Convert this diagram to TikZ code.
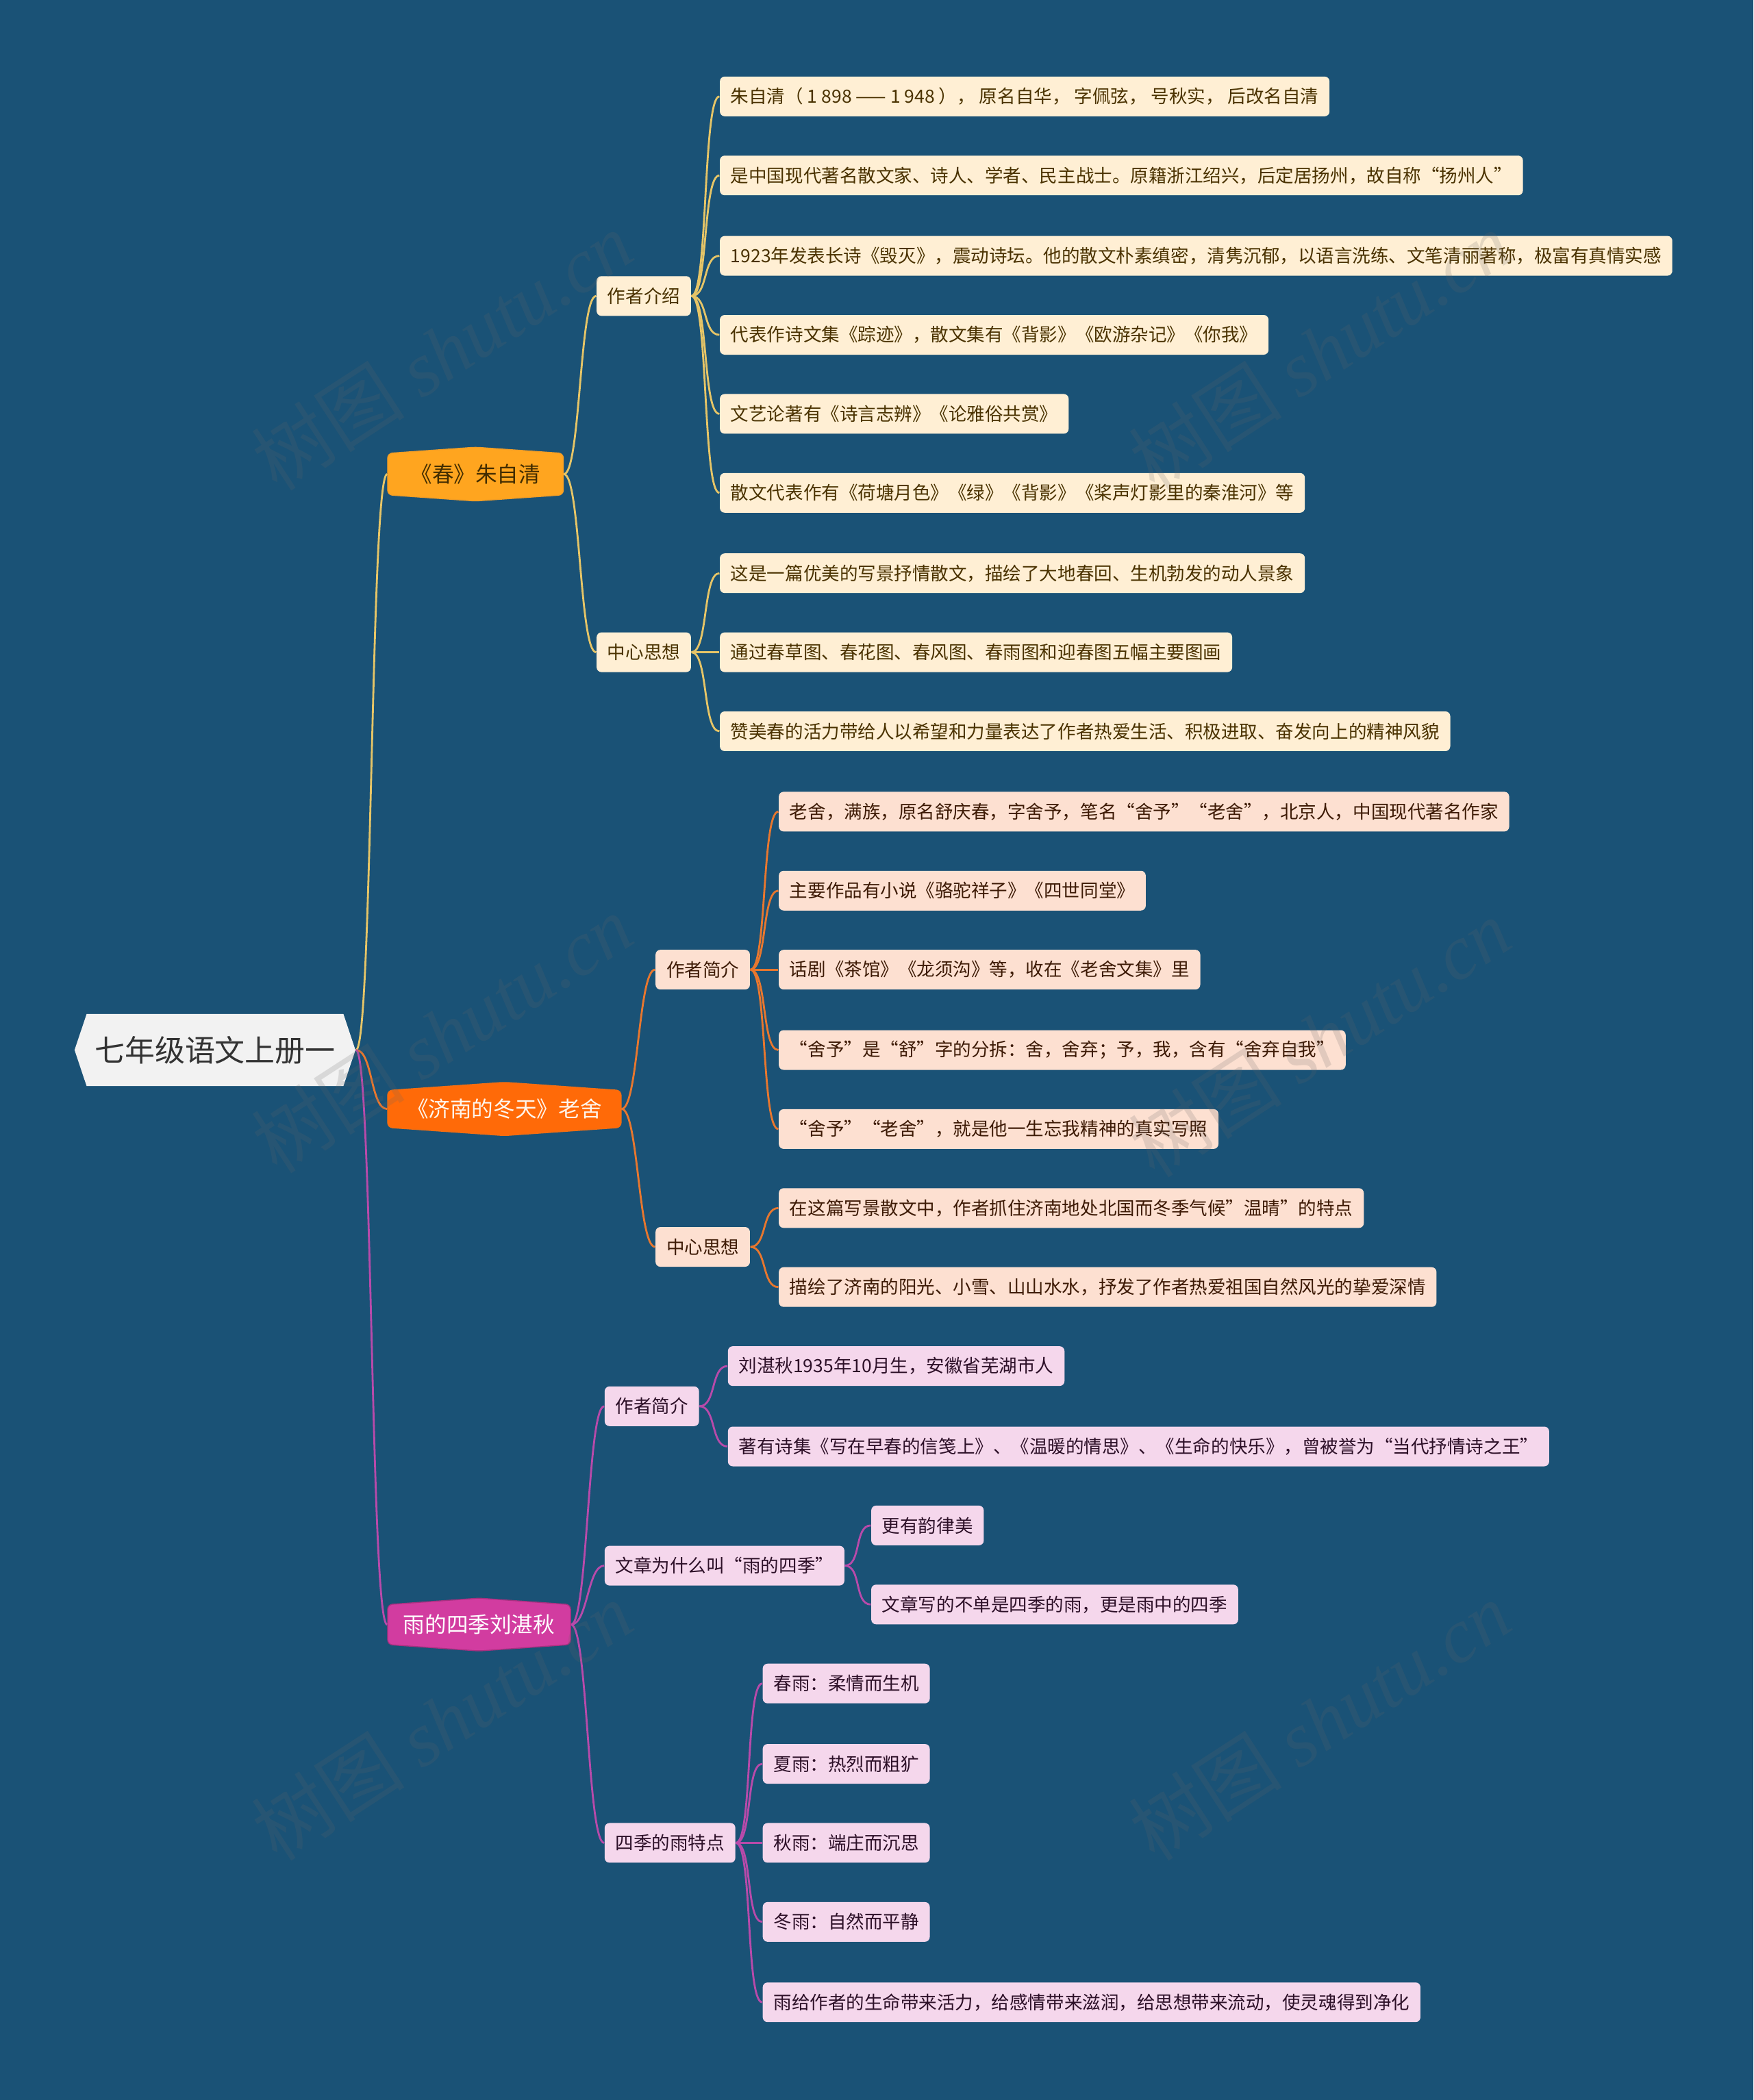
\documentclass[tikz,border=0pt]{standalone}
\usepackage{fontspec}
\setmainfont{Noto Sans CJK SC}
\newfontfamily\wmfont{Liberation Serif}
\usepackage{xcolor}
\usetikzlibrary{shapes.symbols}
\definecolor{bgblue}{HTML}{1A5276}
\definecolor{lineY}{HTML}{E6C567}
\definecolor{lineO}{HTML}{E8772E}
\definecolor{lineP}{HTML}{B84AAA}
\definecolor{fillY}{HTML}{FFEFD4}
\definecolor{fillO}{HTML}{FDE0D1}
\definecolor{fillP}{HTML}{F5D7EC}
\definecolor{textY}{HTML}{4A3200}
\definecolor{textO}{HTML}{3D1A05}
\definecolor{textP}{HTML}{2D1028}
\definecolor{mainY}{HTML}{FFA51F}
\definecolor{mainO}{HTML}{FF6A08}
\definecolor{mainP}{HTML}{D23CA0}
\tikzset{
  link/.style={line width=0.8pt, to path={.. controls +(12.5,0) and +(-12.5,0) .. (\tikztotarget) \tikztonodes}},
  box/.style={rounded corners=2pt, minimum height=16.5pt, inner xsep=4.5pt, inner ysep=0pt, anchor=west, font=\fontsize{7.55}{9}\selectfont},
  boxY/.style={box, fill=fillY, text=textY},
  boxO/.style={box, fill=fillO, text=textO},
  boxP/.style={box, fill=fillP, text=textP},
  mainnode/.style={signal, signal to=north and south, signal pointer angle=172, rounded corners=2pt,
    minimum height=21.5pt, inner ysep=0pt, anchor=west, font=\fontsize{9}{11}\selectfont},
  rootnode/.style={signal, signal to=west and east, signal pointer angle=143, fill=black!5, text=black!80,
    minimum width=115pt, minimum height=30pt, font=\fontsize{12.5}{14}\selectfont},
  wmark/.style={rotate=33, text=black!60, opacity=0.18, font=\fontsize{32}{32}\selectfont},
}

\begin{document}
\begin{tikzpicture}[x=0.019557cm, y=-0.019557cm]
  \useasboundingbox (0,0) rectangle (1309,1568);
  \fill[bgblue] (0,0) rectangle (1309,1568);

  \node[rootnode] (R) at (160.5,784) {七年级语文上册一};

  \node[mainnode, fill=mainY, draw=mainY!80!brown, text=textY!90!black, minimum width=73pt] (m1) at (289,354) {《春》朱自清};
  \node[mainnode, fill=mainO, draw=mainO!80!brown, text=white!92!orange, minimum width=97pt] (m2) at (289,828) {《济南的冬天》老舍};
  \node[mainnode, fill=mainP, draw=mainP!80!black, text=white, minimum width=76pt] (m3) at (289,1213) {雨的四季刘湛秋};

  \node[boxY] (m1a) at (445,221) {作者介绍};
  \node[boxY] (m1b) at (445,487) {中心思想};
  \node[boxO] (m2a) at (489,724) {作者简介};
  \node[boxO] (m2b) at (489,931) {中心思想};
  \node[boxP] (m3a) at (451,1050) {作者简介};
  \node[boxP] (m3b) at (451,1169) {文章为什么叫“雨的四季”};
  \node[boxP] (m3c) at (451,1376) {四季的雨特点};

  \node[boxY] (m1a1) at (537,72) {朱自清（ 1 898 —— 1 948 ）， 原名自华， 字佩弦， 号秋实， 后改名自清};
  \node[boxY] (m1a2) at (537,131) {是中国现代著名散文家、诗人、学者、民主战士。原籍浙江绍兴，后定居扬州，故自称“扬州人”};
  \node[boxY] (m1a3) at (537,191) {1923年发表长诗《毁灭》，震动诗坛。他的散文朴素缜密，清隽沉郁，以语言洗练、文笔清丽著称，极富有真情实感};
  \node[boxY] (m1a4) at (537,250) {代表作诗文集《踪迹》，散文集有《背影》《欧游杂记》《你我》};
  \node[boxY] (m1a5) at (537,309) {文艺论著有《诗言志辨》《论雅俗共赏》};
  \node[boxY] (m1a6) at (537,368) {散文代表作有《荷塘月色》《绿》《背影》《桨声灯影里的秦淮河》等};
  \node[boxY] (m1b1) at (537,428) {这是一篇优美的写景抒情散文，描绘了大地春回、生机勃发的动人景象};
  \node[boxY] (m1b2) at (537,487) {通过春草图、春花图、春风图、春雨图和迎春图五幅主要图画};
  \node[boxY] (m1b3) at (537,546) {赞美春的活力带给人以希望和力量表达了作者热爱生活、积极进取、奋发向上的精神风貌};

  \node[boxO] (m2a1) at (581,606) {老舍，满族，原名舒庆春，字舍予，笔名“舍予”“老舍”，北京人，中国现代著名作家};
  \node[boxO] (m2a2) at (581,665) {主要作品有小说《骆驼祥子》《四世同堂》};
  \node[boxO] (m2a3) at (581,724) {话剧《茶馆》《龙须沟》等，收在《老舍文集》里};
  \node[boxO] (m2a4) at (581,784) {“舍予”是“舒”字的分拆：舍，舍弃；予，我，含有“舍弃自我”};
  \node[boxO] (m2a5) at (581,843) {“舍予”“老舍”，就是他一生忘我精神的真实写照};
  \node[boxO] (m2b1) at (581,902) {在这篇写景散文中，作者抓住济南地处北国而冬季气候"温晴"的特点};
  \node[boxO] (m2b2) at (581,961) {描绘了济南的阳光、小雪、山山水水，抒发了作者热爱祖国自然风光的挚爱深情};

  \node[boxP] (m3a1) at (543,1020) {刘湛秋1935年10月生，安徽省芜湖市人};
  \node[boxP] (m3a2) at (543,1080) {著有诗集《写在早春的信笺上》、《温暖的情思》、《生命的快乐》，曾被誉为“当代抒情诗之王”};
  \node[boxP] (m3b1) at (650,1139) {更有韵律美};
  \node[boxP] (m3b2) at (650,1198) {文章写的不单是四季的雨，更是雨中的四季};
  \node[boxP] (m3c1) at (569,1257) {春雨：柔情而生机};
  \node[boxP] (m3c2) at (569,1317) {夏雨：热烈而粗犷};
  \node[boxP] (m3c3) at (569,1376) {秋雨：端庄而沉思};
  \node[boxP] (m3c4) at (569,1435) {冬雨：自然而平静};
  \node[boxP] (m3c5) at (569,1495) {雨给作者的生命带来活力，给感情带来滋润，给思想带来流动，使灵魂得到净化};

  \draw[link, lineY] (R.east) to (m1.west);
  \draw[link, lineO] (R.east) to (m2.west);
  \draw[link, lineP] (R.east) to (m3.west);

  \draw[link, lineY] (m1.east) to (m1a.west);
  \draw[link, lineY] (m1.east) to (m1b.west);
  \draw[link, lineO] (m2.east) to (m2a.west);
  \draw[link, lineO] (m2.east) to (m2b.west);
  \draw[link, lineP] (m3.east) to (m3a.west);
  \draw[link, lineP] (m3.east) to (m3b.west);
  \draw[link, lineP] (m3.east) to (m3c.west);

  \draw[link, lineY] (m1a.east) to (m1a1.west);
  \draw[link, lineY] (m1a.east) to (m1a2.west);
  \draw[link, lineY] (m1a.east) to (m1a3.west);
  \draw[link, lineY] (m1a.east) to (m1a4.west);
  \draw[link, lineY] (m1a.east) to (m1a5.west);
  \draw[link, lineY] (m1a.east) to (m1a6.west);
  \draw[link, lineY] (m1b.east) to (m1b1.west);
  \draw[link, lineY] (m1b.east) to (m1b2.west);
  \draw[link, lineY] (m1b.east) to (m1b3.west);

  \draw[link, lineO] (m2a.east) to (m2a1.west);
  \draw[link, lineO] (m2a.east) to (m2a2.west);
  \draw[link, lineO] (m2a.east) to (m2a3.west);
  \draw[link, lineO] (m2a.east) to (m2a4.west);
  \draw[link, lineO] (m2a.east) to (m2a5.west);
  \draw[link, lineO] (m2b.east) to (m2b1.west);
  \draw[link, lineO] (m2b.east) to (m2b2.west);

  \draw[link, lineP] (m3a.east) to (m3a1.west);
  \draw[link, lineP] (m3a.east) to (m3a2.west);
  \draw[link, lineP] (m3b.east) to (m3b1.west);
  \draw[link, lineP] (m3b.east) to (m3b2.west);
  \draw[link, lineP] (m3c.east) to (m3c1.west);
  \draw[link, lineP] (m3c.east) to (m3c2.west);
  \draw[link, lineP] (m3c.east) to (m3c3.west);
  \draw[link, lineP] (m3c.east) to (m3c4.west);
  \draw[link, lineP] (m3c.east) to (m3c5.west);

  \node[wmark] (wm1) at (330,262) {树图 {\wmfont\itshape shutu.cn}};
  \node[wmark] (wm2) at (985,262) {树图 {\wmfont\itshape shutu.cn}};
  \node[wmark] (wm3) at (330,772) {树图 {\wmfont\itshape shutu.cn}};
  \node[wmark] (wm4) at (985,775) {树图 {\wmfont\itshape shutu.cn}};
  \node[wmark] (wm5) at (330,1285) {树图 {\wmfont\itshape shutu.cn}};
  \node[wmark] (wm6) at (985,1285) {树图 {\wmfont\itshape shutu.cn}};
\end{tikzpicture}
\end{document}
